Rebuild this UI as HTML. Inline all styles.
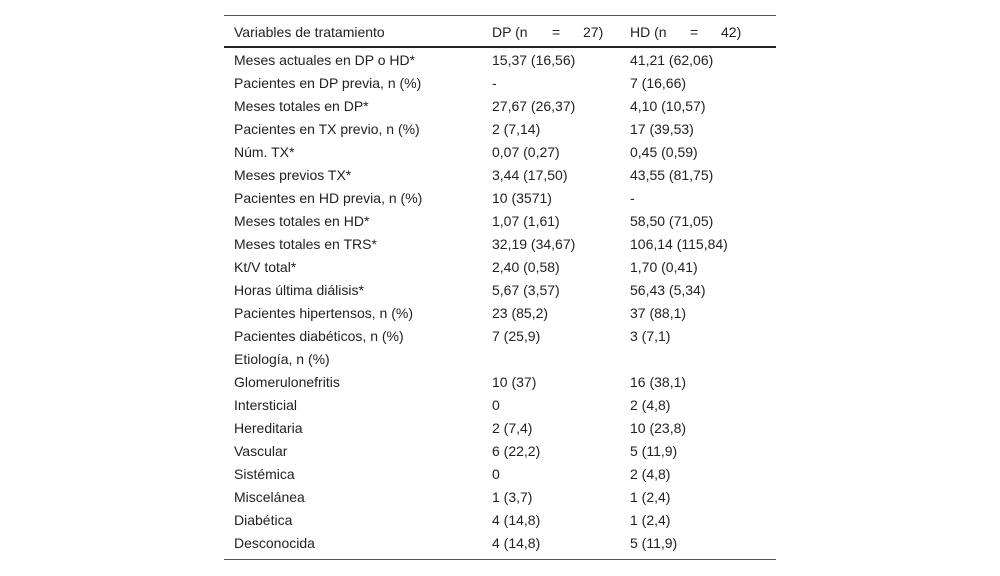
<!DOCTYPE html>
<html><head><meta charset="utf-8"><style>
body{margin:0;width:1000px;height:576px;background:#fff;font-family:"Liberation Sans",sans-serif;font-size:14px;color:#222;position:relative;overflow:hidden}
.l{position:absolute;left:224px;width:552px;background:#333}
.c{position:absolute;white-space:pre;line-height:16px}
</style></head><body>
<div class="l" style="top:15px;height:1px;background:#555"></div>
<div class="l" style="top:46px;height:2px;background:#222"></div>
<div class="l" style="top:559px;height:1px;background:#555"></div>
<div class="c" style="left:234px;top:24px">Variables de tratamiento</div>
<div class="c" style="left:492px;top:24px">DP (n</div>
<div class="c" style="left:552px;top:24px">=</div>
<div class="c" style="left:583px;top:24px">27)</div>
<div class="c" style="left:630px;top:24px">HD (n</div>
<div class="c" style="left:690px;top:24px">=</div>
<div class="c" style="left:721px;top:24px">42)</div>
<div id="t"></div>
<script>
const rows=[
["Meses actuales en DP o HD*","15,37 (16,56)","41,21 (62,06)"],
["Pacientes en DP previa, n (%)","-","7 (16,66)"],
["Meses totales en DP*","27,67 (26,37)","4,10 (10,57)"],
["Pacientes en TX previo, n (%)","2 (7,14)","17 (39,53)"],
["Núm. TX*","0,07 (0,27)","0,45 (0,59)"],
["Meses previos TX*","3,44 (17,50)","43,55 (81,75)"],
["Pacientes en HD previa, n (%)","10 (3571)","-"],
["Meses totales en HD*","1,07 (1,61)","58,50 (71,05)"],
["Meses totales en TRS*","32,19 (34,67)","106,14 (115,84)"],
["Kt/V total*","2,40 (0,58)","1,70 (0,41)"],
["Horas última diálisis*","5,67 (3,57)","56,43 (5,34)"],
["Pacientes hipertensos, n (%)","23 (85,2)","37 (88,1)"],
["Pacientes diabéticos, n (%)","7 (25,9)","3 (7,1)"],
["Etiología, n (%)","",""],
["Glomerulonefritis","10 (37)","16 (38,1)"],
["Intersticial","0","2 (4,8)"],
["Hereditaria","2 (7,4)","10 (23,8)"],
["Vascular","6 (22,2)","5 (11,9)"],
["Sistémica","0","2 (4,8)"],
["Miscelánea","1 (3,7)","1 (2,4)"],
["Diabética","4 (14,8)","1 (2,4)"],
["Desconocida","4 (14,8)","5 (11,9)"]];
const xs=[234,492,630];
const t=document.getElementById('t');
rows.forEach((r,i)=>{
 const y=52+23*i;
 r.forEach((txt,j)=>{
  const d=document.createElement('div');
  d.className='c';d.style.left=xs[j]+'px';d.style.top=y+'px';d.textContent=txt;
  
  
  t.appendChild(d);
 });
});
</script>
</body></html>
